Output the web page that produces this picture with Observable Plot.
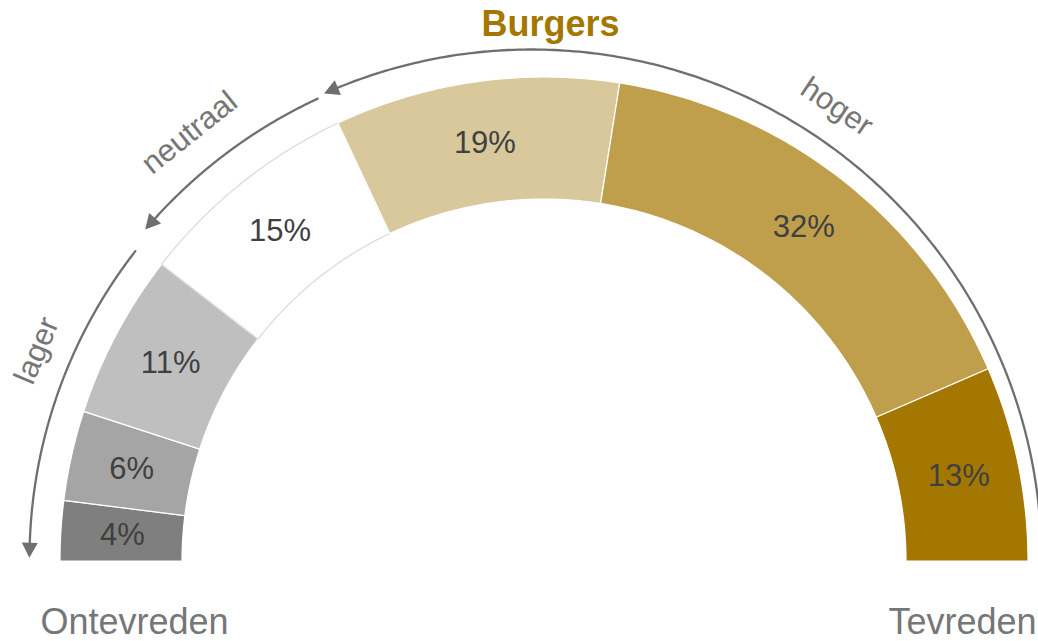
<!DOCTYPE html>
<html>
<head>
<meta charset="utf-8">
<script src="https://cdn.jsdelivr.net/npm/d3@7"></script>
<script src="https://cdn.jsdelivr.net/npm/@observablehq/plot@0.6"></script>
<style>
  html, body { margin: 0; padding: 0; background: #fff; }
  #chart { width: 1038px; height: 641px; }
</style>
</head>
<body>
<div id="chart"></div>
<script>
// ---- data ----
const title = "Burgers";
const values = [4, 6, 11, 15, 19, 32, 13];
const valueLabels = ["4%", "6%", "11%", "15%", "19%", "32%", "13%"];
const segmentColors = ["#7f7f7f", "#a5a5a5", "#bfbfbf", "#ffffff", "#d9c89b", "#bf9f4b", "#a47800"];
const endLabels = ["Ontevreden", "Tevreden"];
const arrowLabels = ["lager", "neutraal", "hoger"];
const arrowFromDeg = [37.9, 65.1, 180];
const arrowToDeg = [0.2, 40.5, 66];
const arrowRadius = [502, 508, 510];
const arrowLabelDeg = [22.9, 51.3, 124];
const arrowLabelRadius = [537, 547, 546];

// ---- geometry helpers (data units = px around gauge centre) ----
const R_OUT = 484, R_IN = 362;
const ARC_CX = -13, ARC_CY = 2;     // centre of the annotation arcs
const total = d3.sum(values);
const toDeg = p => p / total * 180;
const rad = d => d * Math.PI / 180;
const px = (r, deg, cx = 0) => cx - r * Math.cos(rad(deg));
const py = (r, deg, cy = 0) => cy + r * Math.sin(rad(deg));

const cum = d3.cumsum(values);
const segments = values.map((v, i) => {
  const a0 = toDeg(cum[i] - v), a1 = toDeg(cum[i]);
  const n = 80;
  const rows = d3.range(n + 1).map(k => {
    const a = a0 + (a1 - a0) * k / n;
    return {ox: px(R_OUT, a), oy: py(R_OUT, a), ix: px(R_IN, a), iy: py(R_IN, a)};
  });
  return {i, a0, a1, mid: (a0 + a1) / 2, rows};
});

const RM = (R_OUT + R_IN) / 2;
const labelRows = segments.map(s => ({x: px(RM, s.mid), y: py(RM, s.mid), t: valueLabels[s.i]}));

// arrows
const HEAD_BACK = 10; // px from tip to centroid of head
const arcRows = [];
const headRows = [];
arrowLabels.forEach((lab, j) => {
  const r = arrowRadius[j];
  const back = HEAD_BACK / r * 180 / Math.PI;
  const from = arrowFromDeg[j], endA = arrowToDeg[j] + back;
  const n = 200;
  for (let k = 0; k <= n; k++) {
    const a = from + (endA - from) * k / n;
    arcRows.push({j, x: px(r, a, ARC_CX), y: py(r, a, ARC_CY)});
  }
  headRows.push({x: px(r, endA, ARC_CX), y: py(r, endA, ARC_CY), rot: 180 + endA});
});
const arrowTextRows = arrowLabels.map((lab, j) => ({
  t: lab,
  x: px(arrowLabelRadius[j], arrowLabelDeg[j], ARC_CX),
  y: py(arrowLabelRadius[j], arrowLabelDeg[j], ARC_CY),
  rot: arrowLabelDeg[j] - 90
}));

const headSymbol = {
  draw(ctx) {
    ctx.moveTo(0, -10);
    ctx.lineTo(8, 5);
    ctx.lineTo(-8, 5);
    ctx.closePath();
  }
};

const FONT = "'Liberation Sans', Arial, Helvetica, sans-serif";
const GRAY = "#6f6f6f";

const marks = [];
segments.forEach(s => {
  marks.push(Plot.area(s.rows, {
    x1: "ox", y1: "oy", x2: "ix", y2: "iy",
    fill: segmentColors[s.i],
    stroke: segmentColors[s.i] === "#ffffff" ? "#d9d9d9" : "#ffffff",
    strokeWidth: 1.2
  }));
});
marks.push(
  Plot.text(labelRows, {x: "x", y: "y", text: "t", fontSize: 31, fill: "#404040", textAnchor: "middle", lineAnchor: "middle"}),
  Plot.line(arcRows, {x: "x", y: "y", z: "j", stroke: GRAY, strokeWidth: 2.3, curve: "linear"}),
  Plot.dot(headRows, {x: "x", y: "y", rotate: "rot", symbol: headSymbol, fill: GRAY, stroke: "none", r: 5}),
  Plot.text(arrowTextRows, {x: "x", y: "y", text: "t", rotate: "rot", fontSize: 31, fill: "#767676", textAnchor: "middle", lineAnchor: "middle"}),
  Plot.text([title], {text: d => d, frameAnchor: "top", dx: 31, dy: 10, lineAnchor: "top", fontSize: 36, fontWeight: "bold", fill: "#a47800"}),
  Plot.text([endLabels[0]], {text: d => d, frameAnchor: "bottom-left", textAnchor: "start", lineAnchor: "bottom", dx: 40, dy: -8, fontSize: 36, fill: "#767676"}),
  Plot.text([endLabels[1]], {text: d => d, frameAnchor: "bottom-right", textAnchor: "end", lineAnchor: "bottom", dx: -2, dy: -8, fontSize: 36, fill: "#767676"})
);

const chart = Plot.plot({
  width: 1038,
  height: 641,
  margin: 0,
  x: {domain: [-544, 494], axis: null},
  y: {domain: [-80, 561], axis: null},
  style: {fontFamily: FONT, background: "#fff", overflow: "visible"},
  marks
});
document.getElementById("chart").appendChild(chart);
</script>
</body>
</html>
